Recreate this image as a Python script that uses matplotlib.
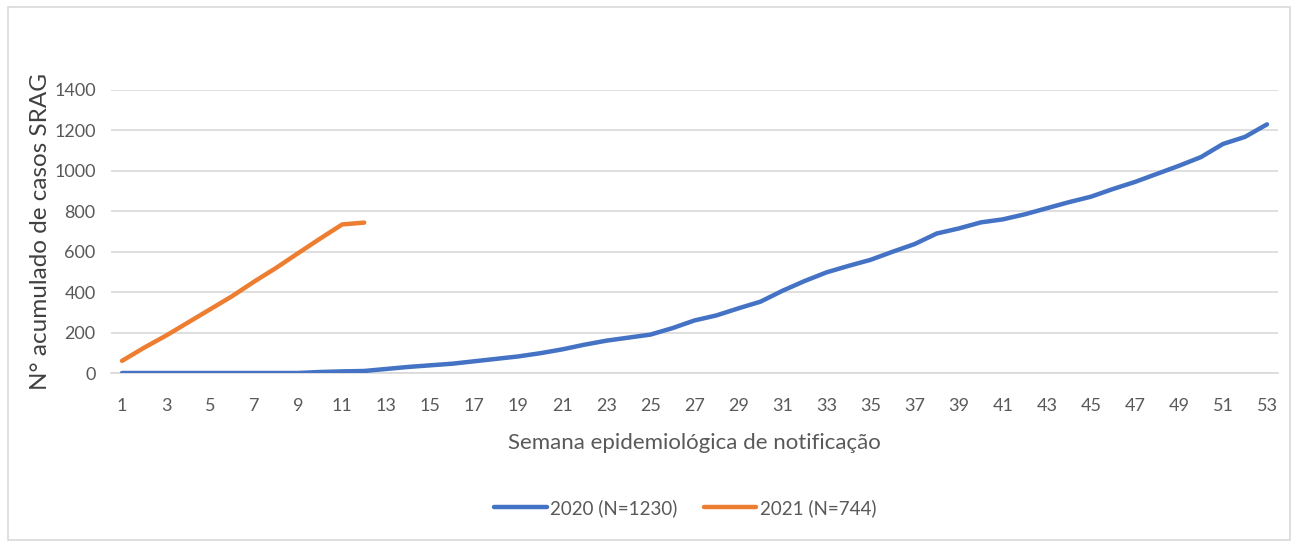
import numpy as np
import matplotlib
matplotlib.use("Agg")
import matplotlib.pyplot as plt
from matplotlib.patches import Rectangle

weeks_2020 = list(range(1, 54))
cases_2020 = [0, 0, 0, 0, 0, 0, 0, 0, 0, 5, 8, 10, 20, 30, 38, 46, 58, 70, 82, 98,
              117, 140, 160, 175, 190, 222, 260, 285, 320, 353, 407, 455, 498, 530, 560,
              600, 638, 690, 715, 745, 760, 785, 815, 845, 872, 910, 945, 985, 1025, 1068,
              1133, 1168, 1230]
weeks_2021 = list(range(1, 13))
cases_2021 = [60, 125, 185, 250, 315, 380, 452, 520, 593, 665, 735, 744]

labels = ["2020 (N=1230)", "2021 (N=744)"]
colors = ["#4472C4", "#ED7D31"]
TXT = "#595959"

plt.rcParams["font.family"] = ["Lato", "DejaVu Sans"]

fig = plt.figure(figsize=(12.98, 5.47), dpi=100)
fig.patches.append(Rectangle((8 / 1298, 7 / 547), 1282 / 1298, 533 / 547,
                             transform=fig.transFigure, fill=False,
                             edgecolor="#D9D9D9", linewidth=1.2))
ax = fig.add_axes([111 / 1298, 1 - 373 / 547, 1167 / 1298, 283 / 547])

ax.plot(weeks_2020, cases_2020, color=colors[0], lw=3.2, label=labels[0],
        solid_capstyle="round", solid_joinstyle="round", zorder=3)
ax.plot(weeks_2021, cases_2021, color=colors[1], lw=3.2, label=labels[1],
        solid_capstyle="round", solid_joinstyle="round", zorder=3)

ax.set_xlim(0.5, 53.5)
ax.set_ylim(0, 1400)
ax.set_yticks(range(0, 1401, 200))
ax.set_xticks(range(1, 54, 2))
ax.grid(axis="y", color="#D9D9D9", lw=1.2)
ax.set_axisbelow(True)
for s in ["top", "right", "left"]:
    ax.spines[s].set_visible(False)
ax.spines["bottom"].set_color("#D9D9D9")
ax.spines["bottom"].set_linewidth(1.2)
ax.tick_params(axis="x", length=0, labelsize=13, colors=TXT, pad=18)
ax.tick_params(axis="y", length=0, labelsize=13, colors=TXT, pad=11)
ax.set_xlabel("Semana epidemiológica de notificação", fontsize=16, color=TXT, labelpad=14)
ax.set_ylabel("N° acumulado de casos SRAG", fontsize=17.5, color="#404040", labelpad=2)

fig.legend(loc="center", bbox_to_anchor=(0.528, 1 - 508 / 547), ncol=2, frameon=False,
           fontsize=13.5, labelcolor=TXT, handlelength=2.8, columnspacing=1.4, handletextpad=0.2)

fig.savefig("out.png", dpi=100)
